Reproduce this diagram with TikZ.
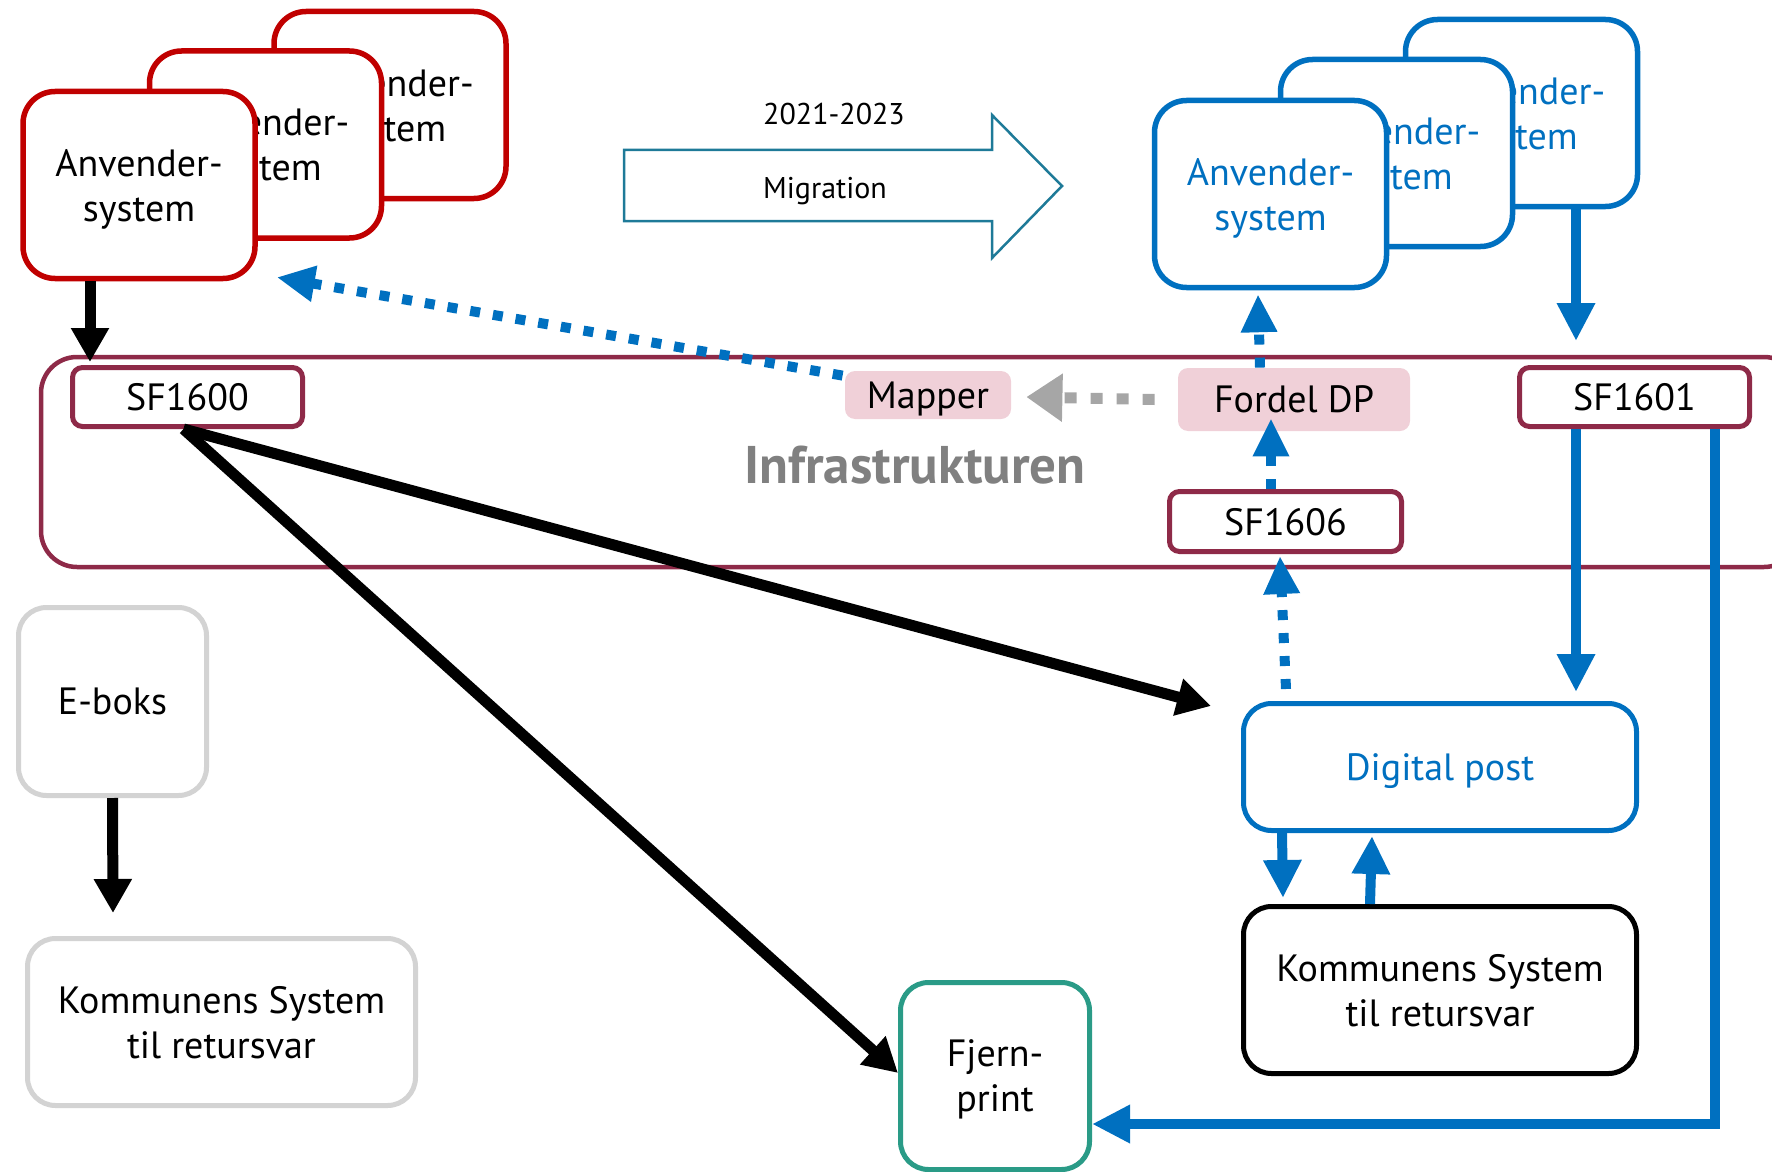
\documentclass[tikz,border=0pt]{standalone}
\usepackage{fontspec}
\setmainfont{PT Sans}
\usetikzlibrary{arrows.meta,calc}
\definecolor{cred}{RGB}{192,0,0}
\definecolor{cblue}{RGB}{0,112,192}
\definecolor{cmaroon}{RGB}{142,42,72}
\definecolor{cpink}{RGB}{240,208,216}
\definecolor{cteal}{RGB}{42,155,135}
\definecolor{cmig}{RGB}{30,122,152}
\definecolor{cgrayline}{RGB}{211,211,211}
\definecolor{cgraytext}{RGB}{128,128,128}
\definecolor{cgraydot}{RGB}{166,166,166}
\tikzset{
  lbl/.style={font=\fontsize{19}{22.5}\selectfont},
  smalllbl/.style={font=\fontsize{15}{18}\selectfont, text depth=0pt},
  sysbox/.style={rounded corners=16pt, line width=2.75pt, fill=white, align=center, inner sep=0pt, lbl, text depth=-1pt, minimum width=116pt, minimum height=93.5pt},
  redsys/.style={sysbox, draw=cred},
  bluesys/.style={sysbox, draw=cblue, text=cblue},
  sfbox/.style={rounded corners=5pt, line width=2.5pt, draw=cmaroon, fill=white, lbl, text depth=-1pt, inner sep=0pt, minimum width=115pt, minimum height=29.5pt},
  pinkbox/.style={rounded corners=5pt, fill=cpink, lbl, text depth=-1pt, inner sep=0pt},
  roundbox/.style={rounded corners=14pt, line width=2.5pt, fill=white, lbl, align=center, text depth=-1pt, inner sep=0pt},
  blkarrow/.style={black, line width=5.5pt, -{Triangle[width=18pt,length=17pt]}},
  bluearrow/.style={cblue, line width=5pt, -{Triangle[width=18pt,length=19pt]}},
  bluedot/.style={cblue, line width=5pt, dash pattern=on 5pt off 6.5pt, -{Triangle[width=17pt,length=19pt]}},
  graydot/.style={cgraydot, line width=5.5pt, dash pattern=on 6pt off 7pt, -{Triangle[width=23pt,length=18pt]}},
}
\begin{document}
\begin{tikzpicture}[x=0.5pt,y=-0.5pt]
\useasboundingbox (0,0) rectangle (1772,1172);
\clip (0,0) rectangle (1772,1172);

% infrastructure container
\draw[cmaroon, line width=2.25pt, rounded corners=18pt] (41,357) rectangle (1800,567);
\node[text=cgraytext, font=\bfseries\fontsize{26.5}{30}\selectfont] (infra) at (915,465) {Infrastrukturen};

% red stacked systems
\node[redsys] (r3) at (390,105) {Anvender-\\system};
\node[redsys] (r2) at (265.5,144.5) {Anvender-\\system};
\node[redsys] (r1) at (139,185) {Anvender-\\system};

% blue stacked systems
\node[bluesys] (b3) at (1521.5,113) {Anvender-\\system};
\node[bluesys] (b2) at (1396.5,153) {Anvender-\\system};
\node[bluesys] (b1) at (1270.5,194) {Anvender-\\system};

% migration arrow
\draw[cmig, line width=1.25pt] (624,150) -- (992,150) -- (992,115) -- (1062,186) -- (992,258) -- (992,221) -- (624,221) -- cycle;
\node[smalllbl] (yrs) at (834,114) {2021-2023};
\node[smalllbl] (mig) at (825,188) {Migration};

% infrastructure components
\node[sfbox] (sf1600) at (187.5,397) {SF1600};
\node[sfbox] (sf1601) at (1634.5,397) {SF1601};
\node[sfbox, minimum width=116pt, minimum height=30pt] (sf1606) at (1285.5,521.5) {SF1606};
\node[pinkbox, minimum width=83pt, minimum height=24pt] (mapper) at (928,395) {Mapper};
\node[pinkbox, minimum width=116pt, minimum height=31.5pt] (fordel) at (1294,399.5) {Fordel DP};

% lower boxes
\node[roundbox, draw=cgrayline, minimum width=94pt, minimum height=94pt] (eb) at (112.5,701.5) {E-boks};
\node[roundbox, draw=cgrayline, minimum width=194pt, minimum height=83.5pt] (kl) at (221.5,1022) {Kommunens System\\til retursvar};
\node[roundbox, draw=cblue, text=cblue, minimum width=196.5pt, minimum height=63.5pt] (dp) at (1440,767) {Digital post};
\node[roundbox, draw=black, minimum width=196.5pt, minimum height=83.5pt] (kr) at (1440,990) {Kommunens System\\til retursvar};
\node[roundbox, draw=cteal, minimum width=94.5pt, minimum height=93.5pt] (fj) at (995,1076) {Fjern-\\print};

% black arrows
\draw[blkarrow] ([xshift=-24.5pt]r1.south) -- ([xshift=-48.75pt,yshift=1.5pt]sf1600.north);
\draw[blkarrow] ([xshift=-2pt]sf1600.south) -- ([xshift=-15pt,yshift=-2.5pt]dp.north west);
\draw[blkarrow] ([xshift=-2pt]sf1600.south) -- ([yshift=1.5pt]fj.west);
\draw[blkarrow] (eb.south) -- ([xshift=-54.25pt,yshift=11.5pt]kl.north);

% blue solid arrows
\draw[bluearrow] ([xshift=27.25pt]b3.south) -- ([xshift=-29.25pt,yshift=12pt]sf1601.north);
\draw[bluearrow] ([xshift=-29.25pt]sf1601.south) -- ([xshift=68pt,yshift=4.5pt]dp.north);
\draw[bluearrow] ([xshift=40pt]sf1601.south) |- ([yshift=-24pt]fj.east);
\draw[bluearrow] ([xshift=-79pt]dp.south) -- ([xshift=-78.5pt,yshift=3pt]kr.north);
\draw[bluearrow] ([xshift=-35pt]kr.north) -- ([xshift=-34pt,yshift=-1.5pt]dp.south);

% blue dotted arrows
\draw[bluedot] ([xshift=-1pt,yshift=-2.5pt]mapper.north west) -- ([xshift=9.5pt,yshift=2pt]r1.south east);
\draw[bluedot] ([xshift=-17pt]fordel.north) -- ([xshift=-6.25pt,yshift=-2pt]b1.south);
\draw[bluedot] ([xshift=-7.25pt]sf1606.north) -- ([xshift=-11.5pt,yshift=6.5pt]fordel.south);
\draw[bluedot] ([xshift=-77pt,yshift=6pt]dp.north) -- ([xshift=-2.75pt,yshift=-1pt]sf1606.south);

% gray dotted arrow
\draw[graydot] ([xshift=-11.5pt]fordel.west) -- ([xshift=7.5pt,yshift=-1pt]mapper.east);
\end{tikzpicture}
\end{document}
